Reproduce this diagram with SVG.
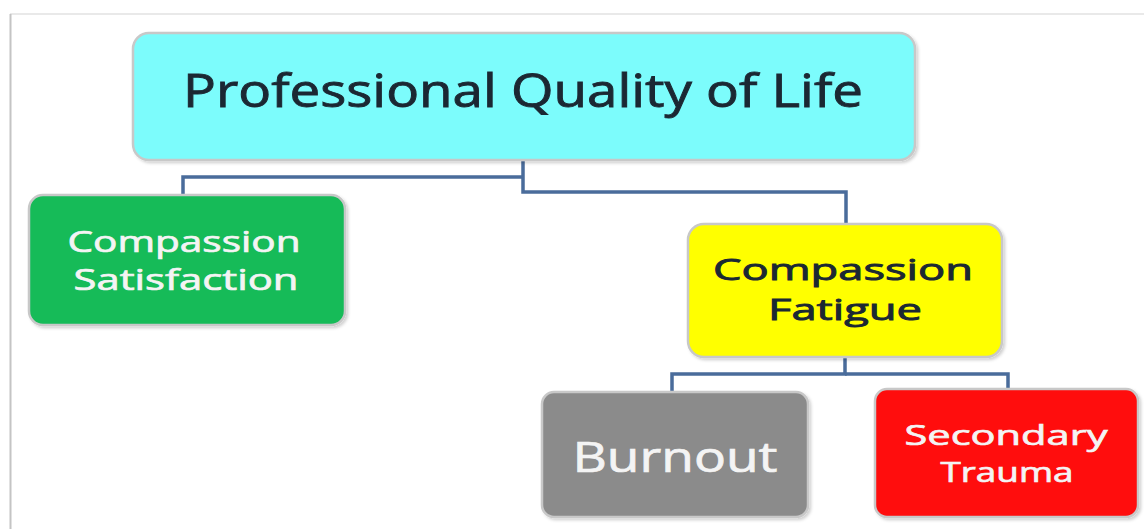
<svg xmlns="http://www.w3.org/2000/svg" width="1144" height="529" viewBox="0 0 1144 529">
<style>
.box{stroke:#c8c8c8;stroke-width:2.5}
.lbl{font-family:"Open Sans","Liberation Sans",sans-serif;text-anchor:middle}
.dark{fill:#1b2833;stroke:#1b2833;stroke-width:0.9}
.light{fill:#f4f4f4;stroke:#f4f4f4;stroke-width:0.7}
.conn{fill:none;stroke:#4a6c9b;stroke-width:3.5}
</style>
<defs>
<filter id="sh" x="-5%" y="-5%" width="115%" height="120%">
<feDropShadow dx="2" dy="2" stdDeviation="1.5" flood-color="#000" flood-opacity="0.18"/>
</filter>
</defs>
<rect x="0" y="0" width="1144" height="529" fill="#ffffff"/>
<g id="frame">
<line x1="10" y1="14" x2="1144" y2="14" stroke="#e2e2e2" stroke-width="1.5"/>
<line x1="10.5" y1="14" x2="10.5" y2="529" stroke="#c4c4c4" stroke-width="2"/>
</g>
<g id="connectors">
<path class="conn" d="M523 160 V192 H846 V224"/>
<path class="conn" d="M523 177 H183 V195"/>
<path class="conn" d="M845 357 V374 H672 V392"/>
<path class="conn" d="M845 374 H1008 V389"/>
</g>
<g id="node-pqol">
<rect class="box" x="133" y="33" width="782" height="127" rx="16" fill="#7cfcfc" filter="url(#sh)"/>
<text class="lbl dark" x="523" y="107" font-size="46" textLength="680" lengthAdjust="spacingAndGlyphs">Professional Quality of Life</text>
</g>
<g id="node-cs">
<rect class="box" x="29" y="195" width="316" height="130" rx="14" fill="#15bb58" filter="url(#sh)"/>
<text class="lbl light" x="184" y="252" font-size="29" textLength="233" lengthAdjust="spacingAndGlyphs">Compassion</text>
<text class="lbl light" x="186" y="290" font-size="29" textLength="225" lengthAdjust="spacingAndGlyphs">Satisfaction</text>
</g>
<g id="node-cf">
<rect class="box" x="688" y="224" width="314" height="133" rx="16" fill="#ffff00" filter="url(#sh)"/>
<text class="lbl dark" x="843" y="280" font-size="30" textLength="260" lengthAdjust="spacingAndGlyphs">Compassion</text>
<text class="lbl dark" x="845" y="320" font-size="30" textLength="154" lengthAdjust="spacingAndGlyphs">Fatigue</text>
</g>
<g id="node-burnout">
<rect class="box" x="542" y="392" width="266" height="125" rx="12" fill="#8b8b8b" filter="url(#sh)"/>
<text class="lbl light" x="675" y="472" font-size="42" textLength="205" lengthAdjust="spacingAndGlyphs">Burnout</text>
</g>
<g id="node-st">
<rect class="box" x="875" y="389" width="263" height="128" rx="12" fill="#ff0808" filter="url(#sh)"/>
<text class="lbl light" x="1006" y="445" font-size="28" textLength="203" lengthAdjust="spacingAndGlyphs">Secondary</text>
<text class="lbl light" x="1007" y="482" font-size="28" textLength="133" lengthAdjust="spacingAndGlyphs">Trauma</text>
</g>
</svg>
